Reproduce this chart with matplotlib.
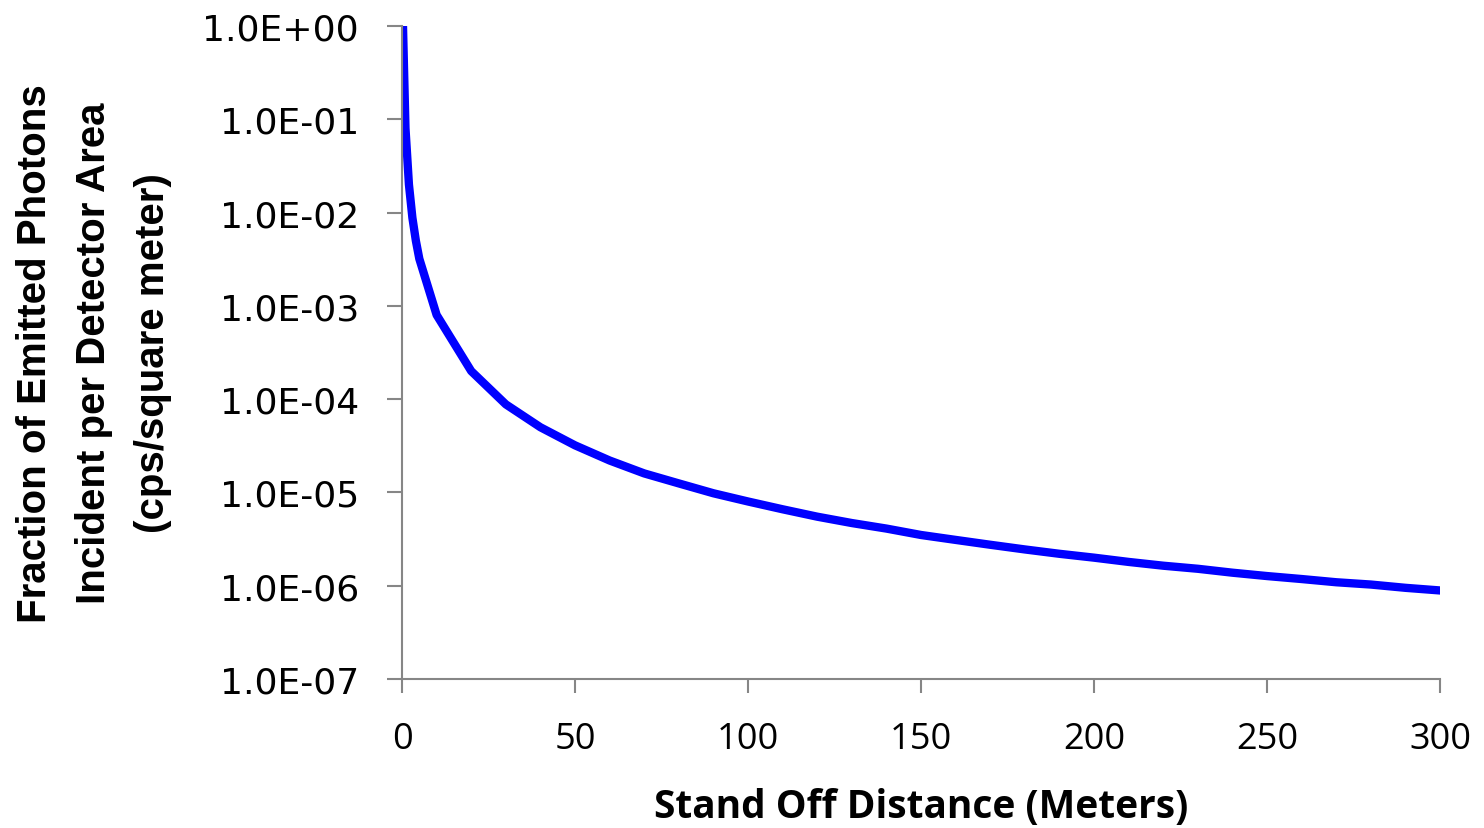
import matplotlib
matplotlib.use("Agg")
import matplotlib.pyplot as plt

# values
distance = [0.28, 1, 2, 3, 4, 5, 10, 20, 30, 40, 50, 60, 70, 80, 90, 100,
            110, 120, 130, 140, 150, 160, 170, 180, 190, 200,
            210, 220, 230, 240, 250, 260, 270, 280, 290, 300]
fraction = [1.0, 8.0e-2, 2.0e-2, 8.8e-3, 5.0e-3, 3.2e-3, 8.0e-4, 2.0e-4, 8.8e-5, 5.0e-5,
            3.2e-5, 2.2e-5, 1.6e-5, 1.25e-5, 9.8e-6, 8.0e-6,
            6.6e-6, 5.5e-6, 4.7e-6, 4.1e-6, 3.5e-6, 3.1e-6, 2.75e-6, 2.45e-6, 2.2e-6, 2.0e-6,
            1.8e-6, 1.64e-6, 1.52e-6, 1.38e-6, 1.27e-6, 1.18e-6, 1.09e-6, 1.03e-6, 9.5e-7, 8.9e-7]

x_ticks = [0, 50, 100, 150, 200, 250, 300]
y_ticks = [1e0, 1e-1, 1e-2, 1e-3, 1e-4, 1e-5, 1e-6, 1e-7]
y_ticklabels = ["1.0E+00", "1.0E-01", "1.0E-02", "1.0E-03",
                "1.0E-04", "1.0E-05", "1.0E-06", "1.0E-07"]

fig = plt.figure(figsize=(14.84, 8.29), dpi=100)
ax = fig.add_axes([0.2709, 0.1797, 0.6995, 0.7877])

ax.plot(distance, fraction, color="#0000ff", lw=6)
ax.set_yscale("log")
ax.set_xlim(0, 300)
ax.set_ylim(1e-7, 1)

ax.set_xticks(x_ticks)
ax.set_xticklabels([str(v) for v in x_ticks], fontfamily="Open Sans", fontsize=26)
ax.set_yticks(y_ticks)
ax.set_yticklabels(y_ticklabels, fontfamily="DejaVu Sans", fontsize=26)
ax.minorticks_off()

for s in ["top", "right"]:
    ax.spines[s].set_visible(False)
for s in ["left", "bottom"]:
    ax.spines[s].set_color("#868686")
    ax.spines[s].set_linewidth(1.5)
ax.tick_params(axis="y", direction="out", length=11, width=1.5, color="#868686", pad=20)
ax.tick_params(axis="x", direction="out", length=10, width=1.5, color="#868686", pad=20)

ax.set_xlabel("Stand Off Distance (Meters)", fontfamily="Open Sans", fontweight="bold",
              fontsize=28, labelpad=22)
ax.set_ylabel("Fraction of Emitted Photons\nIncident per Detector Area\n(cps/square meter)",
              fontfamily="Liberation Sans", fontweight="bold", fontsize=29,
              linespacing=1.7, labelpad=22)

fig.savefig("out.png", dpi=100)
